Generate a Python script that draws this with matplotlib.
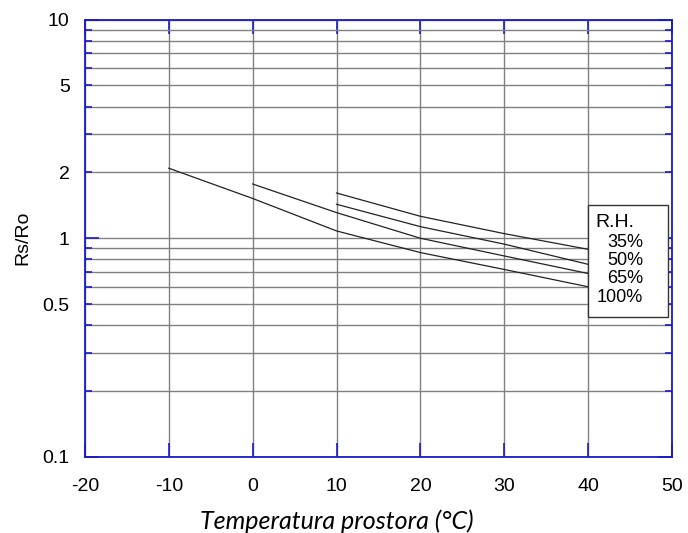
import matplotlib
matplotlib.use('Agg')
import matplotlib.pyplot as plt
from matplotlib.ticker import FixedLocator, FuncFormatter, NullFormatter
from matplotlib.patches import Rectangle

# Rs/Ro vs. temperature for each relative humidity
t_100 = [-10, 0, 10, 20, 30, 40]
rs_100 = [2.09, 1.52, 1.08, 0.86, 0.72, 0.60]
t_65 = [0, 10, 20, 30, 40]
rs_65 = [1.77, 1.31, 1.00, 0.83, 0.69]
t_50 = [10, 20, 30, 40]
rs_50 = [1.43, 1.13, 0.94, 0.76]
t_35 = [10, 20, 30, 40]
rs_35 = [1.61, 1.26, 1.05, 0.89]

rh_labels = ['35%', '50%', '65%', '100%']
x_ticks = [-20, -10, 0, 10, 20, 30, 40, 50]
y_major = [0.1, 1, 10]
y_minor = [0.2, 0.3, 0.4, 0.5, 0.6, 0.7, 0.8, 0.9, 2, 3, 4, 5, 6, 7, 8, 9]
y_minor_labels = {0.5: '0.5', 2: '2', 5: '5'}

blue = '#1a1acc'
grid_c = '#808080'

plt.rcParams['font.family'] = ['Liberation Sans', 'DejaVu Sans']
plt.rcParams['axes.unicode_minus'] = False

fig = plt.figure(figsize=(6.88, 5.33), dpi=100)
ax = fig.add_axes([0.1235, 0.1426, 0.8532, 0.8208])

for t, r in [(t_100, rs_100), (t_65, rs_65), (t_50, rs_50), (t_35, rs_35)]:
    ax.plot(t, r, color='#222222', lw=0.9, zorder=3)

ax.set_yscale('log')
ax.set_xlim(-20, 50)
ax.set_ylim(0.1, 10)

ax.xaxis.set_major_locator(FixedLocator(x_ticks))
ax.yaxis.set_major_locator(FixedLocator(y_major))
ax.yaxis.set_minor_locator(FixedLocator(y_minor))
ax.yaxis.set_major_formatter(FuncFormatter(lambda v, p: '%g' % v))
ax.yaxis.set_minor_formatter(FuncFormatter(lambda v, p: y_minor_labels.get(round(v, 2), '')))
ax.xaxis.set_minor_formatter(NullFormatter())

ax.tick_params(axis='both', which='both', direction='in', color=blue,
               top=True, right=True, labelsize=14, labelcolor='black', width=1.2)
ax.tick_params(axis='both', which='major', length=10)
ax.tick_params(axis='y', which='minor', length=5, pad=11)
ax.tick_params(axis='y', which='major', pad=11)
ax.tick_params(axis='x', which='major', pad=15)

ax.grid(True, which='major', axis='x', color=grid_c, lw=1)
ax.grid(True, which='both', axis='y', color=grid_c, lw=1)
ax.set_axisbelow(True)

for s in ax.spines.values():
    s.set_color(blue)
    s.set_linewidth(1.3)
    s.set_zorder(5)

ax.set_ylabel('Rs/Ro', fontsize=14, labelpad=8)

# R.H. key box
box = Rectangle((0.857, 0.319), 0.136, 0.257, transform=ax.transAxes,
                facecolor='white', edgecolor='#333333', lw=1, zorder=4)
ax.add_patch(box)
ax.text(0.870, 0.5355, 'R.H.', transform=ax.transAxes, fontsize=14,
        ha='left', va='center', zorder=6)
for lbl, yy in zip(rh_labels, [0.4914, 0.4487, 0.4069, 0.365]):
    ax.text(0.9506, yy, lbl, transform=ax.transAxes, fontsize=13,
            ha='right', va='center', zorder=6)

fig.text(0.49, 0.0075, 'Temperatura prostora (°C)', fontsize=18, style='italic',
         family='Lato', ha='center', va='baseline')

fig.savefig('out.png', dpi=100)
